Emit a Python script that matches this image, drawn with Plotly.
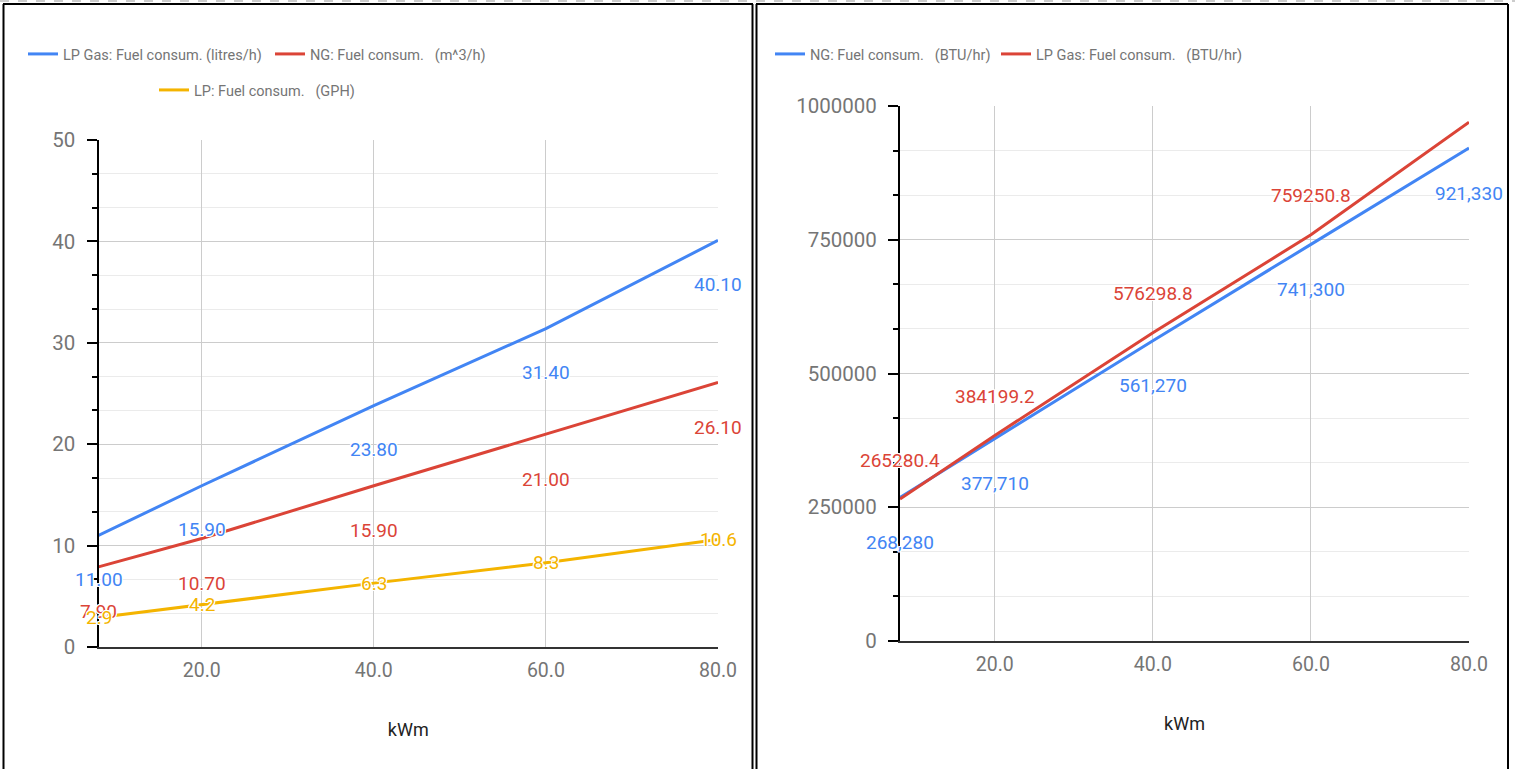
import plotly.graph_objects as go

# ---------------- data ----------------
kwm = [8, 20, 40, 60, 80]

lp_litres = [11.00, 15.90, 23.80, 31.40, 40.10]
ng_m3 = [7.90, 10.70, 15.90, 21.00, 26.10]
lp_gph = [2.9, 4.2, 6.3, 8.3, 10.6]

ng_btu = [268280, 377710, 561270, 741300, 921330]
lp_btu = [265280.4, 384199.2, 576298.8, 759250.8, 969645.6]
lp_btu_label_shown = [True, True, True, True, False]

left_y_ticks = [0, 10, 20, 30, 40, 50]
right_y_ticks = [0, 250000, 500000, 750000, 1000000]
x_ticks = [20, 40, 60, 80]

names_left = ["LP Gas: Fuel consum. (litres/h)",
              "NG: Fuel consum. \u00a0\u00a0(m^3/h)",
              "LP: Fuel consum. \u00a0\u00a0(GPH)"]
names_right = ["NG: Fuel consum. \u00a0\u00a0(BTU/hr)",
               "LP Gas: Fuel consum. \u00a0\u00a0(BTU/hr)"]

BLUE = "#4285F4"
RED = "#DB4437"
YELLOW = "#F4B400"
GRAY = "#757575"
FONT = "Roboto"

W, H = 1515, 769


def px_x(p):
    return p / W


def px_y(p):
    return 1 - p / H


fig = go.Figure()

# left chart
fig.add_trace(go.Scatter(x=kwm, y=lp_litres, mode="lines", name=names_left[0],
                         line=dict(color=BLUE, width=3), xaxis="x", yaxis="y", legend="legend"))
fig.add_trace(go.Scatter(x=kwm, y=ng_m3, mode="lines", name=names_left[1],
                         line=dict(color=RED, width=3), xaxis="x", yaxis="y", legend="legend2"))
fig.add_trace(go.Scatter(x=kwm, y=lp_gph, mode="lines", name=names_left[2],
                         line=dict(color=YELLOW, width=3), xaxis="x", yaxis="y", legend="legend3"))
# right chart
fig.add_trace(go.Scatter(x=kwm, y=ng_btu, mode="lines", name=names_right[0],
                         line=dict(color=BLUE, width=3), xaxis="x2", yaxis="y2", legend="legend4"))
fig.add_trace(go.Scatter(x=kwm, y=lp_btu, mode="lines", name=names_right[1],
                         line=dict(color=RED, width=3), xaxis="x2", yaxis="y2", legend="legend5"))

halo = "-1px -1px 0 #fff, 1px -1px 0 #fff, -1px 1px 0 #fff, 1px 1px 0 #fff, 0 1px 0 #fff, 0 -1px 0 #fff, 1px 0 0 #fff, -1px 0 0 #fff"
annos = []


def add_labels(xs, ys, texts, color, shift, xref, yref, shown=None):
    for i, (xv, yv, t) in enumerate(zip(xs, ys, texts)):
        if shown is not None and not shown[i]:
            continue
        annos.append(dict(x=xv, y=yv, xref=xref, yref=yref, text=t, showarrow=False,
                          yshift=shift, font=dict(family=FONT, size=19, color=color, shadow=halo)))


add_labels(kwm, lp_litres, [f"{v:.2f}" for v in lp_litres], BLUE, -44, "x", "y")
add_labels(kwm, ng_m3, [f"{v:.2f}" for v in ng_m3], RED, -45, "x", "y")
add_labels(kwm, lp_gph, [f"{v:.1f}" for v in lp_gph], YELLOW, 0, "x", "y")
add_labels(kwm, ng_btu, [f"{v:,.0f}" for v in ng_btu], BLUE, -45, "x2", "y2")
add_labels(kwm, lp_btu, [f"{v:.1f}" for v in lp_btu], RED, 39, "x2", "y2", lp_btu_label_shown)

ytickfont = dict(family=FONT, size=20.5, color=GRAY)
xtickfont = dict(family=FONT, size=19.5, color=GRAY)
legfont = dict(family=FONT, size=14.5, color=GRAY)

xdom_l = [px_x(98.5), px_x(718)]
ydom_l = [px_y(647), px_y(140)]
xdom_r = [px_x(900), px_x(1469)]
ydom_r = [px_y(641), px_y(106)]

common_x = dict(range=[8, 80], tickvals=x_ticks, tickformat=".1f", showgrid=True,
                gridcolor="#cccccc", gridwidth=1, zeroline=False, showline=True,
                linecolor="#333333", linewidth=1.5, ticks="", tickfont=xtickfont,
                automargin=False, ticklabelstandoff=5,
                title=dict(text="kWm", font=dict(family=FONT, size=18, color="#222222"), standoff=42),
                fixedrange=True)

fig.update_layout(
    width=W, height=H,
    margin=dict(l=0, r=0, t=0, b=0, autoexpand=False),
    paper_bgcolor="white", plot_bgcolor="white",
    showlegend=True,
    xaxis=dict(domain=xdom_l, anchor="y", **common_x),
    yaxis=dict(domain=ydom_l, anchor="x", range=[0, 50], tickvals=left_y_ticks,
               showgrid=True, gridcolor="#cccccc", zeroline=False, showline=True,
               linecolor="black", linewidth=2, ticks="outside", ticklen=10, tickwidth=2,
               tickcolor="black", tickfont=ytickfont, ticklabelstandoff=7, automargin=False,
               minor=dict(dtick=10 / 3, ticks="outside", ticklen=5, tickwidth=2,
                          tickcolor="black", showgrid=True, gridcolor="#ebebeb")),
    yaxis3=dict(domain=ydom_l, anchor="x", overlaying="y", range=[0, 50], tickvals=left_y_ticks,
                showgrid=False, zeroline=False, showline=False, ticks="inside", ticklen=10,
                tickwidth=2, tickcolor="black", showticklabels=False, automargin=False,
                minor=dict(dtick=10 / 3, ticks="inside", ticklen=5, tickwidth=2,
                           tickcolor="black", showgrid=False)),
    xaxis2=dict(domain=xdom_r, anchor="y2", **common_x),
    yaxis2=dict(domain=ydom_r, anchor="x2", range=[0, 1000000], tickvals=right_y_ticks,
                tickformat="d",
                showgrid=True, gridcolor="#cccccc", zeroline=False, showline=True,
                linecolor="black", linewidth=2, ticks="outside", ticklen=10, tickwidth=2,
                tickcolor="black", tickfont=ytickfont, ticklabelstandoff=7, automargin=False,
                minor=dict(dtick=250000 / 3, ticks="outside", ticklen=5, tickwidth=2,
                           tickcolor="black", showgrid=True, gridcolor="#ebebeb")),
    yaxis4=dict(domain=ydom_r, anchor="x2", overlaying="y2", range=[0, 1000000],
                tickvals=right_y_ticks, showgrid=False, zeroline=False, showline=False,
                ticks="inside", ticklen=10, tickwidth=2, tickcolor="black", showticklabels=False,
                automargin=False,
                minor=dict(dtick=250000 / 3, ticks="inside", ticklen=5, tickwidth=2,
                           tickcolor="black", showgrid=False)),
    annotations=annos,
)

leg_common = dict(orientation="h", xanchor="left", yanchor="middle", font=legfont,
                  bgcolor="rgba(0,0,0,0)", borderwidth=0, itemclick=False, itemdoubleclick=False)
fig.update_layout(
    legend=dict(x=px_x(23), y=px_y(54), **leg_common),
    legend2=dict(x=px_x(270), y=px_y(54), **leg_common),
    legend3=dict(x=px_x(154), y=px_y(90), **leg_common),
    legend4=dict(x=px_x(770), y=px_y(54), **leg_common),
    legend5=dict(x=px_x(996), y=px_y(54), **leg_common),
)

# panel borders
shapes = []
def pline(x0, y0, x1, y1, color="black", width=2, dash="solid"):
    shapes.append(dict(type="line", xref="paper", yref="paper",
                       x0=px_x(x0), y0=px_y(y0), x1=px_x(x1), y1=px_y(y1),
                       line=dict(color=color, width=width, dash=dash)))

pline(0, 1, W, 1, color="#cccccc", width=2, dash="dash")
pline(3, 4, 753, 4)
pline(3.5, 4, 3.5, H)
pline(752.5, 4, 752.5, H)
pline(756, 4, 1508, 4)
pline(756.5, 4, 756.5, H)
pline(1508, 4, 1508, H)
fig.update_layout(shapes=shapes)

fig.write_html("out.html", config={"displayModeBar": False},
               post_script="document.documentElement.style.margin='0';document.body.style.margin='0';"
                           "document.body.style.overflow='hidden';document.documentElement.style.overflow='hidden';")
